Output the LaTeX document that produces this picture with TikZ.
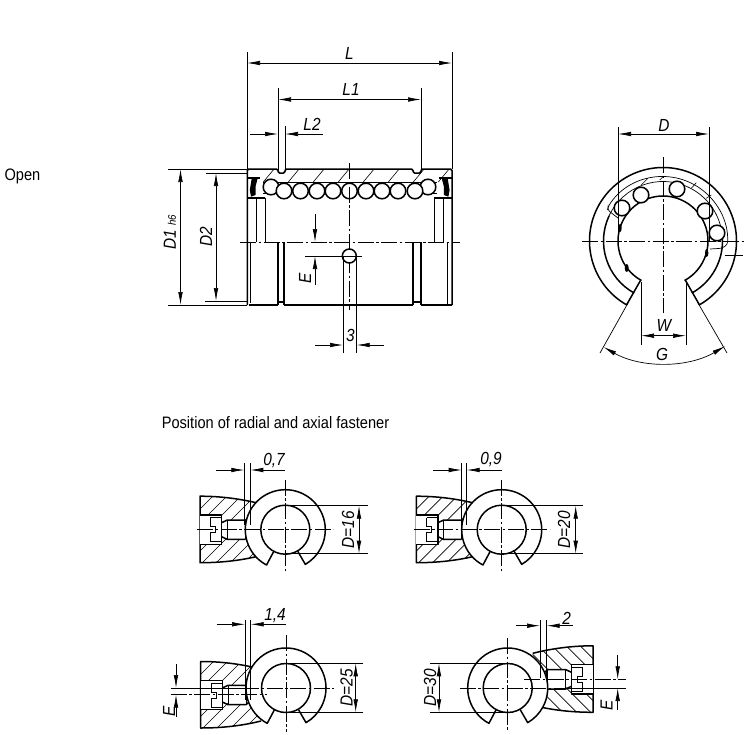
\documentclass[tikz,border=0pt]{standalone}
\usepackage{fontspec}
\setmainfont{Liberation Sans}[FakeStretch=0.88]
\usetikzlibrary{arrows.meta,calc}

\tikzset{
	outline/.style={line width=1.5pt,line join=round},
	thinline/.style={line width=0.7pt},
	hatchline/.style={line width=0.6pt},
	axisline/.style={line width=0.7pt,dash pattern=on 16pt off 2.5pt on 2.5pt off 2.5pt},
	dimin/.style={thinline,-{Latex[length=13pt,width=4.6pt]}},
	dimboth/.style={thinline,{Latex[length=13pt,width=4.6pt]}-{Latex[length=13pt,width=4.6pt]}},
	dimlabel/.style={font=\itshape\fontsize{17.5}{18}\selectfont,inner sep=0pt},
	plainlabel/.style={font=\fontsize{16.6}{18}\selectfont,inner sep=0pt},
}

% the slit ring of the small views, at the origin of its scope
\newcommand{\slitring}{
	\draw[outline,fill=white] (118:25) -- (118:40) arc[start angle=118,end angle=420,radius=40] -- (60:25);
	\draw[outline] (0,0) circle (24.5);
}
% the fastener block, #1 is the offset of the screw axis
\newcommand{\fastblock}[1]{
	\begin{scope}
		\clip (-85.3,#1-33.5) .. controls (-65,#1-33.5) and (-45,#1-31) .. (-25,#1-26) -- (-25,#1+26) .. controls (-45,#1+31) and (-65,#1+33) .. (-85.3,#1+33) -- cycle;
		\foreach \h in {-160,-146,...,-36}
			\draw[hatchline] (\h,#1+40) -- ++(80,-80);
	\end{scope}
	\draw[outline] (-25,#1-26) .. controls (-45,#1-31) and (-65,#1-33.5) .. (-85.3,#1-33.5) -- (-85.3,#1+33) .. controls (-65,#1+33) and (-45,#1+31) .. (-25,#1+26);
	\fill[white] (-85.3,#1-14.7) rectangle (-63.7,#1+14.7);
	\fill[white] (-63.7,#1-8) rectangle (-36,#1+8);
	\fill[white] (-58,#1-9.7) rectangle (-40,#1+9.7);
	\draw[outline] (-85.3,#1-14.7) -- (-63.7,#1-14.7) -- (-63.7,#1+14.7) -- (-85.3,#1+14.7);
	\draw[thinline] (-75,#1-12) -- (-63.7,#1-12) (-75,#1+12) -- (-63.7,#1+12);
	\draw[thinline] (-75,#1-12) -- (-75,#1-3) -- (-70,#1-3) -- (-70,#1+3) -- (-75,#1+3) -- (-75,#1+12);
	\draw[outline] (-63.7,#1-7) -- (-58,#1-9.7) -- (-40,#1-9.7) (-63.7,#1+7) -- (-58,#1+9.7) -- (-40,#1+9.7);
	\draw[thinline] (-58,#1-9.7) -- (-58,#1+9.7) (-40,#1-9.7) -- (-40,#1+9.7);
	\draw[outline] (-40,#1-9.7) -- (-36,#1-6) -- (-36,#1+6) -- (-40,#1+9.7);
	\fill[white] (0,0) circle (40);
}
% seal and cap at the left end of the bush
\newcommand{\bushend}{
	\draw[outline] (247.3,178) -- (260,178);
	\draw[outline] (247.3,198) -- (265,198);
	\fill[black] (251.7,178.5) -- (258,177) -- (255.5,186.7) -- (255.5,195) -- (251,196.7) -- (249.8,190) -- cycle;
	\draw[thinline,line width=1pt] (256,198) -- (256,242) (265,198) -- (265,242);
}

\begin{document}
\begin{tikzpicture}[x=1pt,y=1pt,yscale=-1]
	\useasboundingbox (0,0) rectangle (750,734);
	\node[plainlabel] (open) at (22.5,176) {Open};
	\node[plainlabel] (position) at (275.5,422.5) {Position of radial and axial fastener};
%
	% bush, side view
	\fill[white] (247,169) rectangle (452,305);
	\draw[outline,rounded corners=1.5pt] (247.3,305) -- (247.3,169) -- (278,169) -- (278,173) -- (285,173) -- (285,169) -- (413,169) -- (413,173) -- (421,173) -- (421,169) -- (452,169) -- (452,305);
	\draw[outline] (263,182.3) -- (437,182.3);
	\foreach \i in {0,...,7}
		\draw[hatchline] ({263.3+25*\i},182) -- ++(10,-12);
	\bushend
	\begin{scope}[xshift=699.4pt,xscale=-1]
		\bushend
	\end{scope}
	\draw[outline] (263,193.3) -- (280,193.3) (419,193.3) -- (437,193.3);
	\foreach \x in {271,428}
		\draw[outline,fill=white] (\x,187) circle (7.8);
	\foreach \x in {284,300.5,317,333,349.5,366,382,398,415}
		\draw[outline,fill=white] (\x,191) circle (7.8);
	\draw[outline] (250.7,242) -- (250.7,303) (278,242) -- (278,305) (284,242) -- (284,305) (413,242) -- (413,305) (421,242) -- (421,305) (447.7,242) -- (447.7,305);
	\draw[outline] (249,305) -- (278,305) (284,305) -- (413,305) (421,305) -- (452,305);
	\draw[outline] (278,302) -- (284,302) (413,302) -- (421,302);
	\draw[axisline] (240,242) -- (460,242);
	\draw[axisline] (349.3,163) -- (349.3,310);
	\draw[outline,fill=white] (349.3,256) circle (7);
	\draw[thinline] (305,256) -- (362,256);
%
	% dimensions of the side view
	\draw[thinline] (247,52) -- (247,169) (452,52) -- (452,169);
	\draw[dimboth] (247,63) -- (452,63);
	\draw[thinline] (278,88) -- (278,170) (421,88) -- (421,170);
	\draw[dimboth] (278,99.5) -- (421,99.5);
	\draw[thinline] (285,126) -- (285,171);
	\draw[dimin] (250,134) -- (278,134);
	\draw[dimin] (323,134) -- (285,134);
	\draw[thinline] (168,169) -- (247,169) (168,305) -- (247,305);
	\draw[dimboth] (180.5,169) -- (180.5,305);
	\draw[thinline] (206,173) -- (247,173) (205,301) -- (247,301);
	\draw[dimboth] (216,173) -- (216,301);
	\draw[dimin] (315,214) -- (315,242);
	\draw[dimin] (315,285) -- (315,256);
	\draw[thinline] (343,256) -- (343,353) (356.7,256) -- (356.7,353);
	\draw[dimin] (315,345) -- (343,345);
	\draw[dimin] (384,345) -- (356.7,345);
	\node[dimlabel] (labL) at (349.5,53) {L};
	\node[dimlabel] (labLone) at (351,89.5) {L1};
	\node[dimlabel] (labLtwo) at (312,124) {L2};
	\node[dimlabel,rotate=90] (labDone) at (170,232) {D1 {\fontsize{11}{11}\selectfont h6}};
	\node[dimlabel,rotate=90] (labDtwo) at (206,237) {D2};
	\node[dimlabel,rotate=90] (labE) at (305,278) {E};
	\node[dimlabel] (labthree) at (350.5,335) {3};
%
	% bush, end view
	\begin{scope}[shift={(663,241)}]
		\draw[outline] (119.7:45.5) -- (119.7:73.5) arc[start angle=119.7,end angle=420.3,radius=73.5] -- (60.3:45.5);
		\draw[outline] (119:59.5) arc[start angle=119,end angle=205,radius=59.5];
		\draw[outline] (61:59.5) arc[start angle=61,end angle=-5,radius=59.5];
		\draw[thinline] (205:59.5) arc[start angle=205,end angle=355,radius=59.5];
		\draw[outline] (118.5:45) arc[start angle=118.5,end angle=421.5,radius=45];
		% cage of the balls
		\draw[thinline,rounded corners=3pt] (-45,-23) -- (-55.5,-31) -- (-55,-34) arc[start angle=212,end angle=363,radius=64.7] -- (59,7.3) -- (47,8);
		\draw[hatchline] (-21.7,-56) -- (-15,-62.7) (-3.3,-61) -- (0,-64.3) (28.3,-52.7) -- (33.3,-58.3) (43.3,-42.7) -- (48.3,-46);
		\foreach \a/\b in {-41/-33,-22/-46,14/-52,42/-30,54/-8}
			\draw[outline,fill=white] (\a,\b) circle (7.8);
		\fill[black] (-43,-13) ellipse (1.7 and 4);
		\fill[black] (43.7,12) ellipse (1.7 and 4);
		\fill[black] (-36.3,27) ellipse (2 and 4);
	\end{scope}
	\draw[axisline] (582,241) -- (745,241);
	\draw[axisline] (663,157) -- (663,313);
	\draw[thinline] (725,255) -- (743,255);
	\draw[thinline] (618,127) -- (618,241) (709,127) -- (709,241);
	\draw[dimboth] (618,134) -- (709,134);
	\draw[thinline] (641,282) -- (641,345) (686,282) -- (686,345);
	\draw[dimboth] (641,335.7) -- (686,335.7);
	\draw[thinline] (628,303) -- (600,353) (698,303) -- (727,353);
	\draw[dimboth] (603.5,347) arc[start angle=119.5,end angle=59.7,radius=122];
	\node[dimlabel] (labD) at (664,125) {D};
	\node[dimlabel] (labW) at (664,325.5) {W};
	\node[dimlabel] (labG) at (662,354) {G};
%
	% fasteners, first row
	\begin{scope}[shift={(285.3,529.7)}]
		\fastblock{0}
		\slitring
		\draw[axisline] (-88,0) -- (48,0);
		\draw[axisline] (0,-50) -- (0,43);
	\end{scope}
	\draw[thinline] (244.3,463) -- (244.3,525) (250.3,463) -- (250.3,525);
	\draw[dimin] (216,470) -- (244.3,470);
	\draw[dimin] (285,470) -- (250.3,470);
	\draw[thinline] (285.3,505.7) -- (368,505.7) (285.3,553.7) -- (368,553.7);
	\draw[dimboth] (359,505.7) -- (359,553.7);
	\node[dimlabel] (labAgap) at (274,460.5) {0,7};
	\node[dimlabel,rotate=90] (labAd) at (348,530) {D=16};
%
	\begin{scope}[shift={(501.7,529.7)}]
		\fastblock{0}
		\slitring
		\draw[axisline] (-88,0) -- (48,0);
		\draw[axisline] (0,-50) -- (0,43);
	\end{scope}
	\draw[thinline] (461.7,463) -- (461.7,525) (466.7,463) -- (466.7,525);
	\draw[dimin] (433,470) -- (461.7,470);
	\draw[dimin] (501.7,470) -- (466.7,470);
	\draw[thinline] (501.7,505.7) -- (583,505.7) (501.7,553.7) -- (583,553.7);
	\draw[dimboth] (575.7,505.7) -- (575.7,553.7);
	\node[dimlabel] (labBgap) at (491,459.5) {0,9};
	\node[dimlabel,rotate=90] (labBd) at (564,530) {D=20};
%
	% fasteners, second row
	\begin{scope}[shift={(286,688)}]
		\fastblock{7}
		\slitring
		\draw[axisline] (-43,0) -- (48,0);
		\draw[axisline] (0,-53) -- (0,44);
	\end{scope}
	\draw[thinline] (170.7,688) -- (243,688);
	\draw[axisline] (170.7,694.7) -- (266.7,694.7);
	\draw[dimin] (176,664) -- (176,688);
	\draw[dimin] (176,717) -- (176,694.7);
	\draw[thinline] (245,620) -- (245,700) (250.7,620) -- (250.7,700);
	\draw[dimin] (216.7,624.3) -- (245,624.3);
	\draw[dimin] (286,624.3) -- (250.7,624.3);
	\draw[thinline] (286,663.3) -- (362.7,663.3) (286,712.3) -- (362.7,712.3);
	\draw[dimboth] (355.7,663.3) -- (355.7,712.3);
	\node[dimlabel] (labCgap) at (275,615.5) {1,4};
	\node[dimlabel,rotate=90] (labCd) at (346.7,688) {D=25};
	\node[dimlabel,rotate=90] (labCe) at (169,711.7) {E};
%
	\begin{scope}[shift={(507.7,688)}]
		\begin{scope}[xscale=-1]
			\fastblock{-8.7}
		\end{scope}
		\slitring
		\draw[axisline] (-48,0) -- (50,0);
		\draw[axisline] (0,-50) -- (0,43);
	\end{scope}
	\draw[thinline] (558,688) -- (626,688);
	\draw[axisline] (524,679.3) -- (626,679.3);
	\draw[dimin] (617.7,655) -- (617.7,679.3);
	\draw[dimin] (617.7,710) -- (617.7,688);
	\draw[thinline] (540,620) -- (540,678) (546.7,620) -- (546.7,678);
	\draw[dimin] (516,625.7) -- (540,625.7);
	\draw[dimin] (573,625.7) -- (546.7,625.7);
	\draw[thinline] (430,663.3) -- (507.7,663.3) (430,712.3) -- (507.7,712.3);
	\draw[dimboth] (439,663.3) -- (439,712.3);
	\node[dimlabel] (labDgap) at (566.7,618) {2};
	\node[dimlabel,rotate=90] (labDd) at (430,688) {D=30};
	\node[dimlabel,rotate=90] (labDe) at (606.7,705) {E};
\end{tikzpicture}
\end{document}
